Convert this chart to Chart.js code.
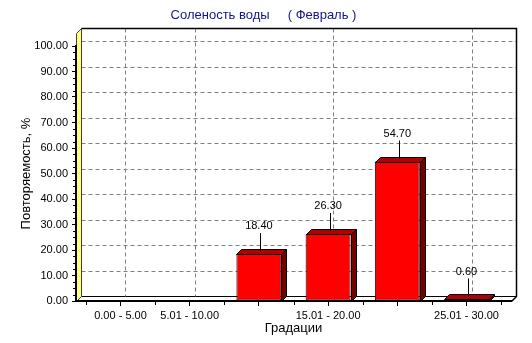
<!DOCTYPE html>
<html><head><meta charset="utf-8">
<script src="https://cdn.jsdelivr.net/npm/chart.js@4"></script>
<style>html,body{margin:0;padding:0;background:#fff}canvas{display:block}</style>
</head><body>
<canvas id="c" width="532" height="343"></canvas>
<script>
// ---- data ----
const categories = ['0.00 - 5.00', '5.01 - 10.00', '10.01 - 15.00', '15.01 - 20.00', '20.01 - 25.00', '25.01 - 30.00'];
const values = [0, 0, 18.4, 26.3, 54.7, 0.6];
const shownLabels = [0, 1, 3, 5];
const yTicks = [0, 10, 20, 30, 40, 50, 60, 70, 80, 90, 100];
const chartTitle = 'Соленость воды     ( Февраль )';
const xTitle = 'Градации';
const yTitle = 'Повторяемость, %';

// ---- style ----
const DEPTH = 5;
const FAM = "'Liberation Sans', Arial, sans-serif";
const WALL_TOP_GAP = 18;

function poly(ctx, pts, fill, stroke, lw) {
  ctx.beginPath();
  ctx.moveTo(pts[0][0], pts[0][1]);
  for (let i = 1; i < pts.length; i++) ctx.lineTo(pts[i][0], pts[i][1]);
  ctx.closePath();
  if (fill) { ctx.fillStyle = fill; ctx.fill(); }
  if (stroke) { ctx.strokeStyle = stroke; ctx.lineWidth = lw || 1; ctx.stroke(); }
}

const threeD = {
  id: 'threeD',
  beforeDraw(chart) {
    const { ctx, chartArea: a, scales: { x, y } } = chart;
    const d = DEPTH;
    const L = Math.round(a.left) + 0.5, R = Math.round(a.right) + 0.5;
    const B = Math.round(a.bottom) + 0.5, T = Math.round(a.top) - WALL_TOP_GAP + 0.5;
    ctx.save();
    poly(ctx, [[L + d, T], [R + d, T], [R + d, B - d], [L + d, B - d]], '#fff', null);
    poly(ctx, [[L, B], [R, B], [R + d, B - d], [L + d, B - d]], '#fff', '#000', 1);
    ctx.setLineDash([4, 3]);
    ctx.strokeStyle = '#808080';
    ctx.lineWidth = 1;
    yTicks.forEach(v => {
      if (v === 0) return;
      const py = Math.round(y.getPixelForValue(v)) - d + 0.5;
      ctx.beginPath(); ctx.moveTo(L + d, py); ctx.lineTo(R + d, py); ctx.stroke();
    });
    shownLabels.forEach(i => {
      const px = Math.round(x.getPixelForValue(i)) + d + 0.5;
      ctx.beginPath(); ctx.moveTo(px, T); ctx.lineTo(px, B - d); ctx.stroke();
    });
    ctx.setLineDash([]);
    poly(ctx, [[L, B], [L, T + d], [L + d, T], [L + d, B - d]], '#FFFF80', '#404040', 1);
    ctx.strokeStyle = '#000';
    ctx.lineWidth = 1.5;
    ctx.beginPath();
    ctx.moveTo(L + d, T); ctx.lineTo(R + d, T); ctx.lineTo(R + d, B - d); ctx.lineTo(R, B);
    ctx.stroke();
    ctx.restore();
  },
  afterDraw(chart) {
    const { ctx, chartArea: a, scales: { x, y } } = chart;
    ctx.save();
    ctx.strokeStyle = '#000';
    ctx.lineWidth = 1;
    for (let i = 0; i <= categories.length; i++) {
      const px = Math.round(x.getPixelForValue(i - 0.5)) + 0.5;
      ctx.beginPath(); ctx.moveTo(px, a.bottom); ctx.lineTo(px, a.bottom + 4); ctx.stroke();
    }
    for (let v = 2.5; v < 100; v += 2.5) {
      if (v % 10 === 0) continue;
      const py = Math.round(y.getPixelForValue(v)) + 0.5;
      ctx.beginPath(); ctx.moveTo(a.left - 3, py); ctx.lineTo(a.left, py); ctx.stroke();
    }
    // chart title
    ctx.fillStyle = '#14148F';
    ctx.font = '13px ' + FAM;
    ctx.textAlign = 'center';
    ctx.textBaseline = 'middle';
    ctx.fillText(chartTitle, (a.left + a.right) / 2 - 30, 15);
    ctx.restore();
  },
  afterDatasetsDraw(chart) {
    const { ctx } = chart;
    const d = DEPTH;
    const meta = chart.getDatasetMeta(0);
    ctx.save();
    meta.data.forEach((bar, i) => {
      const v = values[i];
      if (!v) return;
      const { x: bx, y: by, base, width } = bar.getProps(['x', 'y', 'base', 'width'], true);
      const l = Math.round(bx - width / 2) + 0.5, r = Math.round(bx + width / 2) + 0.5;
      const t = Math.round(by) + 0.5, b = Math.round(base) + 0.5;
      poly(ctx, [[l, t], [r, t], [r + d, t - d], [l + d, t - d]], '#B00000', '#000', 1);
      poly(ctx, [[r, t], [r + d, t - d], [r + d, b - d], [r, b]], '#760000', '#000', 1);
      const lx = Math.round(bx + d / 2) - 0.5;
      ctx.strokeStyle = '#000';
      ctx.lineWidth = 1;
      ctx.beginPath(); ctx.moveTo(lx, by - d / 2); ctx.lineTo(lx, by - 21); ctx.stroke();
      ctx.fillStyle = '#000';
      ctx.font = '11px ' + FAM;
      ctx.textAlign = 'center';
      ctx.textBaseline = 'middle';
      ctx.fillText(v.toFixed(2), bx, by - 28);
    });
    ctx.restore();
  }
};

new Chart(document.getElementById('c'), {
  type: 'bar',
  data: {
    datasets: [{
      data: values.map((v, i) => ({ x: i, y: v })),
      backgroundColor: '#FF0000',
      borderColor: '#000',
      borderWidth: 1,
      borderSkipped: false,
      barPercentage: 0.65,
      categoryPercentage: 1
    }]
  },
  options: {
    responsive: false,
    animation: false,
    devicePixelRatio: 1,
    layout: { padding: { top: 46, right: 21, left: 0, bottom: 0 } },
    plugins: {
      legend: { display: false },
      tooltip: { enabled: false },
      title: { display: false }
    },
    scales: {
      x: {
        type: 'linear',
        min: -0.643,
        max: categories.length - 1 + 0.643,
        offset: false,
        afterBuildTicks: s => { s.ticks = categories.map((_, i) => ({ value: i })); },
        afterFit: s => { s.height = 42; },
        ticks: {
          autoSkip: false, maxRotation: 0, padding: 3, color: '#000',
          font: { family: FAM, size: 11 },
          callback: v => shownLabels.includes(v) ? categories[v] : ''
        },
        grid: { drawOnChartArea: false, drawTicks: true, tickLength: 5, color: '#000', offset: false },
        border: { display: true, color: '#000', width: 2 },
        title: { display: true, text: xTitle, color: '#000', font: { family: FAM, size: 13 }, padding: { top: 0, bottom: 7 } }
      },
      y: {
        min: 0,
        max: 100,
        afterBuildTicks: s => { s.ticks = yTicks.map(v => ({ value: v })); },
        afterFit: s => { s.width = 76; },
        ticks: { padding: 4, color: '#000', font: { family: FAM, size: 11 }, callback: v => v.toFixed(2) },
        grid: { drawOnChartArea: false, drawTicks: true, tickLength: 4, color: '#000' },
        border: { display: true, color: '#000', width: 2 },
        title: { display: true, text: yTitle, color: '#000', font: { family: FAM, size: 13 }, padding: { top: 19, bottom: 0 } }
      }
    }
  },
  plugins: [threeD]
});
</script>
</body></html>
